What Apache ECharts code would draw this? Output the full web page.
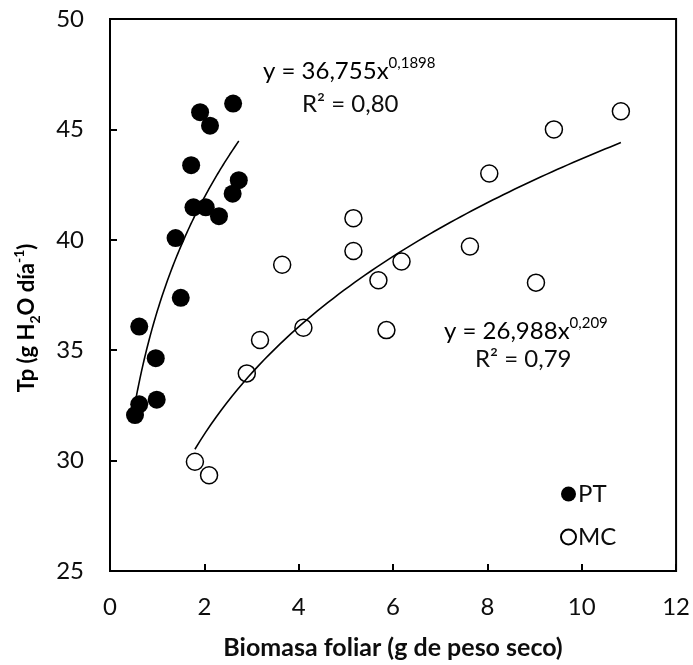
<!DOCTYPE html>
<html>
<head>
<meta charset="utf-8">
<script src="https://cdn.jsdelivr.net/npm/echarts@6/dist/echarts.min.js"></script>
<style>
  html, body { margin: 0; padding: 0; background: #fff; }
  #chart { width: 693px; height: 665px; }
</style>
</head>
<body>
<div id="chart"></div>
<script>
// Leaf biomass (g dry weight) vs. transpiration Tp (g H2O per day)
const ptX = [0.53, 0.62, 0.62, 0.97, 0.99, 1.39, 1.50, 1.72, 1.77, 1.91, 2.03, 2.12, 2.31, 2.60, 2.61, 2.73];
const ptY = [32.06, 32.55, 36.07, 34.64, 32.76, 40.08, 37.37, 43.38, 41.47, 45.78, 41.47, 45.17, 41.07, 42.09, 46.17, 42.70];
const mcX = [1.80, 2.10, 2.90, 3.18, 3.65, 4.10, 5.16, 5.16, 5.69, 5.86, 6.18, 7.63, 8.04, 9.03, 9.41, 10.83];
const mcY = [29.95, 29.34, 33.95, 35.46, 38.87, 36.02, 40.98, 39.49, 38.17, 35.91, 39.02, 39.70, 43.00, 38.06, 45.00, 45.82];

// Power-law fits y = a * x^b, as printed on the chart
const ptFit = { a: 36.755, b: 0.1898, aText: '36,755', bText: '0,1898', r2Text: '0,80' };
const mcFit = { a: 26.988, b: 0.209, aText: '26,988', bText: '0,209', r2Text: '0,79' };

const seriesNames = ['PT', 'MC'];
const xTicks = [0, 2, 4, 6, 8, 10, 12];
const yTicks = [25, 30, 35, 40, 45, 50];
const xTitle = 'Biomasa foliar (g de peso seco)';

const FONT = 'Lato';
const INK = '#0d0d0d';

function pairs(xs, ys) { return xs.map((x, i) => [x, ys[i]]); }

// Curve of the fitted equation over the span of the group's own data
function fitCurve(fit, xs) {
  const lo = Math.min(...xs), hi = Math.max(...xs);
  const n = 80, pts = [];
  for (let i = 0; i <= n; i++) {
    const x = lo + (hi - lo) * i / n;
    pts.push([x, fit.a * Math.pow(x, fit.b)]);
  }
  return pts;
}

const chart = echarts.init(document.getElementById('chart'), null, { renderer: 'canvas' });

const eqRich = {
  m: { fontFamily: FONT, fontSize: 24, color: INK, lineHeight: 30 },
  p: { fontFamily: FONT, fontSize: 15, color: INK, lineHeight: 15, verticalAlign: 'top' }
};

function eqText(fit) { return '{m|y = ' + fit.aText + 'x}{p|' + fit.bText + '}'; }

chart.setOption({
  animation: false,
  backgroundColor: '#fff',
  grid: {
    left: 110, right: 16, top: 19, bottom: 91,
    show: true, borderColor: '#000', borderWidth: 2, backgroundColor: 'transparent'
  },
  legend: {
    data: seriesNames,
    orient: 'vertical',
    left: 555, top: 477,
    itemWidth: 15, itemHeight: 15, itemGap: 19,
    icon: 'circle',
    textStyle: { fontFamily: FONT, fontSize: 24, color: INK, padding: [0, 0, 0, -3] }
  },
  xAxis: {
    type: 'value',
    min: xTicks[0], max: xTicks[xTicks.length - 1], interval: 2,
    axisLine: { lineStyle: { color: '#000', width: 2 } },
    axisTick: { inside: true, length: 7, lineStyle: { color: '#000', width: 2 } },
    axisLabel: { margin: 24, fontFamily: FONT, fontSize: 24, color: INK },
    splitLine: { show: false },
    name: xTitle,
    nameLocation: 'middle',
    nameGap: 64,
    nameTextStyle: { fontFamily: FONT, fontSize: 25, fontWeight: 'bold', color: INK }
  },
  yAxis: {
    type: 'value',
    min: yTicks[0], max: yTicks[yTicks.length - 1], interval: 5,
    axisLine: { show: true, lineStyle: { color: '#000', width: 2 } },
    axisTick: { show: true, inside: true, length: 7, lineStyle: { color: '#000', width: 2 } },
    axisLabel: { margin: 26, fontFamily: FONT, fontSize: 24, color: INK },
    splitLine: { show: false }
  },
  series: [
    {
      name: 'PT', type: 'scatter', data: pairs(ptX, ptY),
      symbol: 'circle', symbolSize: 18,
      itemStyle: { color: '#000', opacity: 1 }, z: 3
    },
    {
      name: 'MC', type: 'scatter', data: pairs(mcX, mcY),
      symbol: 'circle', symbolSize: 17,
      itemStyle: { color: '#fff', borderColor: '#000', borderWidth: 1.5, opacity: 1 }, z: 3
    },
    {
      name: 'PT ajuste', type: 'line', data: fitCurve(ptFit, ptX),
      showSymbol: false, symbol: 'none', smooth: false,
      lineStyle: { color: '#000', width: 1.6 }, z: 4, silent: true
    },
    {
      name: 'MC ajuste', type: 'line', data: fitCurve(mcFit, mcX),
      showSymbol: false, symbol: 'none', smooth: false,
      lineStyle: { color: '#000', width: 1.6 }, z: 4, silent: true
    }
  ],
  graphic: [
    {
      type: 'text', x: 263, y: 71, z: 10,
      style: { text: eqText(ptFit), rich: eqRich, align: 'left', verticalAlign: 'middle' }
    },
    {
      type: 'text', x: 302, y: 104, z: 10,
      style: { text: 'R² = ' + ptFit.r2Text, fontFamily: FONT, fontSize: 24, fill: INK, align: 'left', verticalAlign: 'middle' }
    },
    {
      type: 'text', x: 444, y: 331, z: 10,
      style: { text: eqText(mcFit), rich: eqRich, align: 'left', verticalAlign: 'middle' }
    },
    {
      type: 'text', x: 475, y: 359, z: 10,
      style: { text: 'R² = ' + mcFit.r2Text, fontFamily: FONT, fontSize: 24, fill: INK, align: 'left', verticalAlign: 'middle' }
    },
    {
      type: 'text', x: 27, y: 318, rotation: Math.PI / 2, z: 10,
      style: {
        text: '{b|Tp (g H}{s|2}{b|O día}{p|-1}{b|)}',
        align: 'center', verticalAlign: 'middle',
        rich: {
          b: { fontFamily: FONT, fontSize: 22, fontWeight: 'bold', color: INK, lineHeight: 30 },
          s: { fontFamily: FONT, fontSize: 14, fontWeight: 'bold', color: INK, lineHeight: 14, verticalAlign: 'bottom' },
          p: { fontFamily: FONT, fontSize: 14, fontWeight: 'bold', color: INK, lineHeight: 14, verticalAlign: 'top' }
        }
      }
    }
  ]
});
</script>
</body>
</html>
